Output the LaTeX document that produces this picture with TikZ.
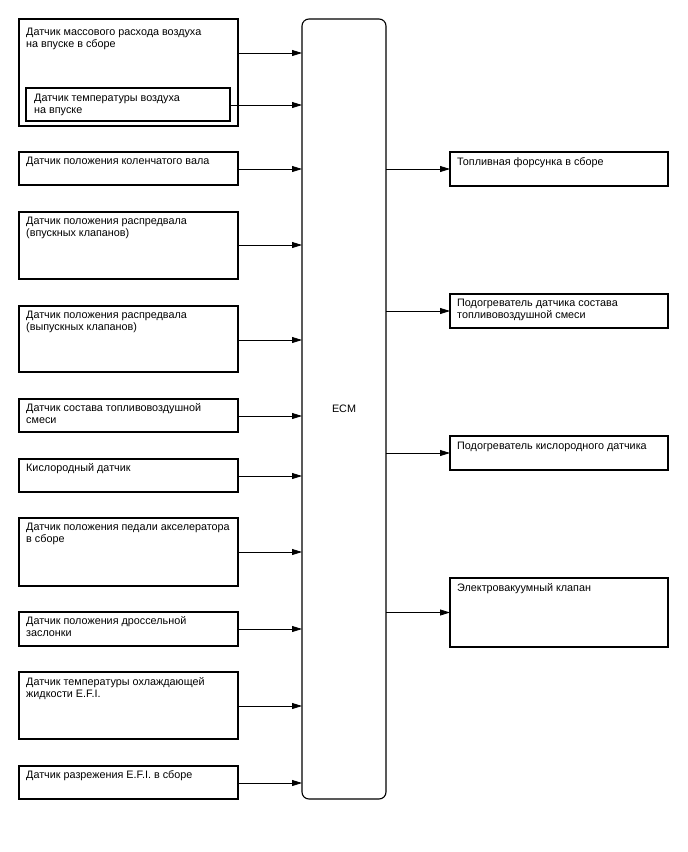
\documentclass[tikz,border=0pt]{standalone}
\usepackage{fontspec}
\setmainfont{Liberation Sans}
\usetikzlibrary{arrows.meta,calc}
\begin{document}
\begin{tikzpicture}[x=1pt,y=-1pt,
  box/.style={draw, line width=1.1pt, anchor=north west, inner sep=0pt, outer sep=0pt},
  lbox/.style={box, minimum width=219pt},
  rbox/.style={box, minimum width=218pt},
  txt/.style={anchor=base west, inner sep=0pt, font=\fontsize{10.8pt}{12pt}\selectfont, align=left},
  arr/.style={line width=0.8pt, -{Triangle[length=10pt,width=6pt]}}
]
\useasboundingbox (0,0) rectangle (688,852);
% ECM
\node[draw, line width=1.1pt, rounded corners=7pt, anchor=north west, minimum width=84pt, minimum height=780pt, inner sep=0pt, outer sep=0pt] (ecm) at (302,19) {};
\node[txt, anchor=center] (ecmt) at (ecm.center) {ECM};
% left boxes (base west anchor = baseline of the last line)
\node[lbox, minimum height=107pt] (b1) at (19,19) {};
\node[txt] (t1) at ($(b1.north west)+(7,28)$) {Датчик массового расхода воздуха\\на впуске в сборе};
\node[box, minimum width=204pt, minimum height=33pt] (b1i) at (26,88) {};
\node[txt] (t1i) at ($(b1i.north west)+(8,25)$) {Датчик температуры воздуха\\на впуске};
\node[lbox, minimum height=33pt] (b2) at (19,152) {};
\node[txt] (t2) at ($(b2.north west)+(7,12)$) {Датчик положения коленчатого вала};
\node[lbox, minimum height=67pt] (b3) at (19,212) {};
\node[txt] (t3) at ($(b3.north west)+(7,24)$) {Датчик положения распредвала\\(впускных клапанов)};
\node[lbox, minimum height=66pt] (b4) at (19,306) {};
\node[txt] (t4) at ($(b4.north west)+(7,24)$) {Датчик положения распредвала\\(выпускных клапанов)};
\node[lbox, minimum height=33pt] (b5) at (19,399) {};
\node[txt] (t5) at ($(b5.north west)+(7,24)$) {Датчик состава топливовоздушной\\смеси};
\node[lbox, minimum height=33pt] (b6) at (19,459) {};
\node[txt] (t6) at ($(b6.north west)+(7,12)$) {Кислородный датчик};
\node[lbox, minimum height=68pt] (b7) at (19,518) {};
\node[txt] (t7) at ($(b7.north west)+(7,24)$) {Датчик положения педали акселератора\\в сборе};
\node[lbox, minimum height=34pt] (b8) at (19,612) {};
\node[txt] (t8) at ($(b8.north west)+(7,24)$) {Датчик положения дроссельной\\заслонки};
\node[lbox, minimum height=67pt] (b9) at (19,672) {};
\node[txt] (t9) at ($(b9.north west)+(7,25)$) {Датчик температуры охлаждающей\\жидкости E.F.I.};
\node[lbox, minimum height=33pt] (b10) at (19,766) {};
\node[txt] (t10) at ($(b10.north west)+(7,12)$) {Датчик разрежения E.F.I. в сборе};
% right boxes
\node[rbox, minimum height=34pt] (r1) at (450,152) {};
\node[txt] (rt1) at ($(r1.north west)+(7,13)$) {Топливная форсунка в сборе};
\node[rbox, minimum height=34pt] (r2) at (450,294) {};
\node[txt] (rt2) at ($(r2.north west)+(7,24)$) {Подогреватель датчика состава\\топливовоздушной смеси};
\node[rbox, minimum height=34pt] (r3) at (450,436) {};
\node[txt] (rt3) at ($(r3.north west)+(7,13)$) {Подогреватель кислородного датчика};
\node[rbox, minimum height=69pt] (r4) at (450,578) {};
\node[txt] (rt4) at ($(r4.north west)+(7,13)$) {Электровакуумный клапан};
% input arrows
\draw[arr] (b1.east |- 0,53) -- (ecm.west |- 0,53);
\draw[arr] (b1i.east |- 0,105) -- (ecm.west |- 0,105);
\draw[arr] (b2.east |- 0,169) -- (ecm.west |- 0,169);
\draw[arr] (b3.east |- 0,245) -- (ecm.west |- 0,245);
\draw[arr] (b4.east |- 0,340) -- (ecm.west |- 0,340);
\draw[arr] (b5.east |- 0,416) -- (ecm.west |- 0,416);
\draw[arr] (b6.east |- 0,476) -- (ecm.west |- 0,476);
\draw[arr] (b7.east |- 0,552) -- (ecm.west |- 0,552);
\draw[arr] (b8.east |- 0,629) -- (ecm.west |- 0,629);
\draw[arr] (b9.east |- 0,706) -- (ecm.west |- 0,706);
\draw[arr] (b10.east |- 0,783) -- (ecm.west |- 0,783);
% output arrows
\draw[arr] (ecm.east |- r1.west) -- (r1.west);
\draw[arr] (ecm.east |- r2.west) -- (r2.west);
\draw[arr] (ecm.east |- r3.west) -- (r3.west);
\draw[arr] (ecm.east |- r4.west) -- (r4.west);
\end{tikzpicture}
\end{document}
